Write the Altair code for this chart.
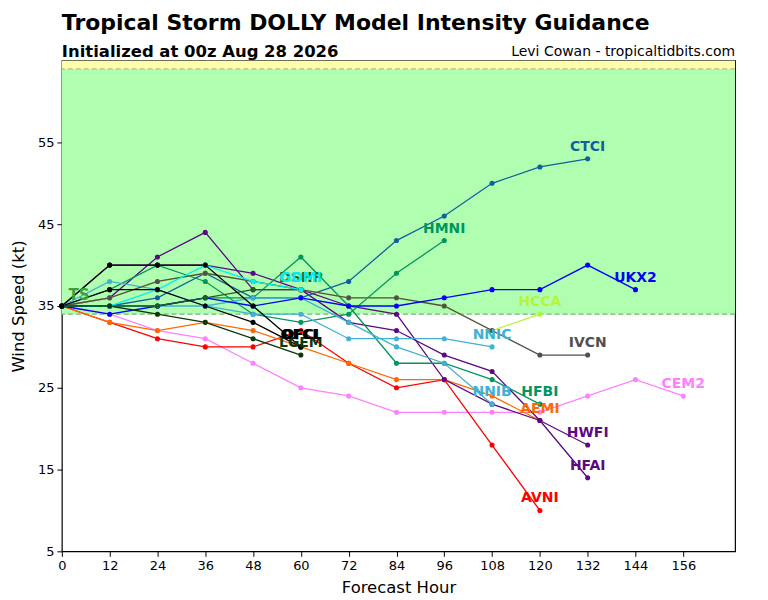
import altair as alt
import pandas as pd

HOURS = [0, 12, 24, 36, 48, 60, 72, 84, 96, 108, 120, 132, 144, 156]

MODELS = ["CEM2", "AVNI", "AEMI", "HWFI", "HFAI", "HFBI", "HMNI", "CTCI",
          "NNIC", "NNIB", "HCCA", "IVCN", "UKX2", "DSHP", "GDMI", "LGEM",
          "OFCI", "OFCL"]

CEM2 = [35, 34, 32, 31, 28, 25, 24, 22, 22, 22, 22, 24, 26, 24]
AVNI = [35, 33, 31, 30, 30, 32, 28, 25, 26, 18, 10]
AEMI = [35, 33, 32, 33, 32, 30, 28, 26, 26, 24, 21]
HWFI = [35, 36, 41, 44, 37, 37, 35, 34, 26, 23, 21, 18]
HFAI = [35, 40, 40, 40, 39, 37, 33, 32, 29, 27, 21, 14]
HFBI = [35, 35, 35, 36, 36, 41, 35, 28, 28, 26, 23]
HMNI = [35, 37, 40, 38, 34, 33, 34, 39, 43]
CTCI = [35, 35, 36, 39, 36, 36, 38, 43, 46, 50, 52, 53]
NNIC = [35, 38, 37, 35, 34, 34, 31, 31, 31, 30]
NNIB = [35, 35, 35, 35, 36, 36, 33, 30, 28, 23]
HCCA = [35, 36, 38, 39, 38, 37, 36, 36, 35, 32, 34]
IVCN = [35, 36, 38, 39, 38, 37, 36, 36, 35, 32, 29, 29]
UKX2 = [35, 34, 35, 36, 35, 36, 35, 35, 36, 37, 37, 40, 37]
DSHP = [35, 35, 35, 36, 37, 37]
GDMI = [35, 35, 37, 40, 38, 37]
LGEM = [35, 35, 34, 33, 31, 29]
OFCI = [35, 37, 37, 35, 33, 30]
OFCL = [35, 40, 40, 40, 35, 30]

SERIES = [CEM2, AVNI, AEMI, HWFI, HFAI, HFBI, HMNI, CTCI, NNIC, NNIB,
          HCCA, IVCN, UKX2, DSHP, GDMI, LGEM, OFCI, OFCL]

COLORS = ["#ff80ff", "#ff0000", "#ff6a00", "#5c0a84", "#5c0a84", "#00965e",
          "#00965e", "#1060a0", "#40b0d4", "#40b0d4", "#b4f53c", "#505050",
          "#0000ff", "#1e5e1e", "#00f0f0", "#0a3a0a", "#000000", "#000000"]

TITLE = "Tropical Storm DOLLY Model Intensity Guidance"
SUBTITLE = "Initialized at 00z Aug 28 2026"
CREDIT = ["Levi Cowan - tropicaltidbits.com"]
X_TICKS = list(range(0, 157, 12))
Y_TICKS = [5, 15, 25, 35, 45, 55]
TS_LABEL = ["TS"]
TS_POS = [4.3, 36.3]
TS_THRESHOLD = 34
HU_THRESHOLD = 64
Y_MAX = 65
X_MAX = 169

rows = []
for i, (m, vals) in enumerate(zip(MODELS, SERIES)):
    for h, v in zip(HOURS, vals):
        rows.append({"model": m, "hour": h, "wind": v, "k": i})
df = pd.DataFrame(rows)
last = df.groupby("model", sort=False).tail(1)

FONT = "DejaVu Sans"
xscale = alt.Scale(domain=[0, X_MAX], nice=False, zero=False)
yscale = alt.Scale(domain=[5, Y_MAX], nice=False, zero=False)
xaxis = alt.Axis(values=X_TICKS, title="Forecast Hour", grid=False, labelFlush=False)
yaxis = alt.Axis(values=Y_TICKS, title="Wind Speed (kt)", grid=False, labelFlush=False)
cscale = alt.Scale(domain=MODELS, range=COLORS)

bands = pd.DataFrame({"y0": [TS_THRESHOLD, HU_THRESHOLD], "y1": [HU_THRESHOLD, Y_MAX],
                      "x0": [0, 0], "x1": [X_MAX, X_MAX], "c": ["ts", "hu"]})
band = alt.Chart(bands).mark_rect().encode(
    x=alt.X("x0:Q", scale=xscale, axis=xaxis),
    x2="x1:Q",
    y=alt.Y("y0:Q", scale=yscale, axis=yaxis),
    y2="y1:Q",
    color=alt.Color("c:N", scale=alt.Scale(domain=["ts", "hu"], range=["#b0ffb0", "#ffffaa"]), legend=None),
)

thr = pd.DataFrame({"y": [TS_THRESHOLD, HU_THRESHOLD], "c": ["ts", "hu"]})
rules = alt.Chart(thr).mark_rule(strokeDash=[5, 3], strokeWidth=1.2).encode(
    y="y:Q",
    color=alt.Color("c:N", scale=alt.Scale(domain=["ts", "hu"], range=["#70b870", "#b8c070"]), legend=None),
)

lines = alt.Chart(df).mark_line(strokeWidth=1.3).encode(
    x="hour:Q", y="wind:Q",
    color=alt.Color("model:N", scale=cscale, legend=None),
    detail="model:N",
    order="hour:Q",
)
points = alt.Chart(df).mark_point(filled=True, size=26, opacity=1).encode(
    x="hour:Q", y="wind:Q",
    color=alt.Color("model:N", scale=cscale, legend=None),
    order="k:Q",
)
labels = alt.Chart(last).mark_text(font=FONT, fontSize=14, fontWeight="bold", dy=-12).encode(
    x="hour:Q", y="wind:Q", text="model:N",
    color=alt.Color("model:N", scale=cscale, legend=None),
    order="k:Q",
)
ts = alt.Chart(pd.DataFrame({"t": TS_LABEL, "x": [TS_POS[0]], "y": [TS_POS[1]]})).mark_text(
    font=FONT, fontSize=15, fontWeight="bold", color="#3f9f3f", opacity=1
).encode(x="x:Q", y="y:Q", text="t:N")

credit = alt.Chart(pd.DataFrame({"t": CREDIT})).mark_text(
    font=FONT, fontSize=14, align="right", baseline="alphabetic", color="black"
).encode(text="t:N", x=alt.value(675), y=alt.value(-5))

chart = alt.layer(band, rules, lines, points, ts, labels, credit).resolve_scale(
    color="independent"
).properties(
    width=675, height=492,
    autosize="none",
    padding={"left": 54, "top": 52, "right": 25, "bottom": 48},
    title=alt.TitleParams(
        text=TITLE, subtitle=SUBTITLE, anchor="start", frame="group",
        font=FONT, fontSize=22, fontWeight="bold", color="black",
        subtitleFont=FONT, subtitleFontSize=16.5, subtitleFontWeight="bold",
        subtitleColor="black", subtitlePadding=9, offset=-17,
    ),
).configure_view(stroke="black", strokeWidth=1.2).configure_axis(
    labelFont=FONT, titleFont=FONT, labelFontSize=13, titleFontSize=16.5,
    titleFontWeight="normal", labelColor="black", titleColor="black",
    tickColor="black", tickSize=5, domain=False, labelPadding=3,
).configure_axisY(titlePadding=11).configure_axisX(titlePadding=7)

chart.save("out.html", embed_options={"renderer": "svg", "actions": False})
